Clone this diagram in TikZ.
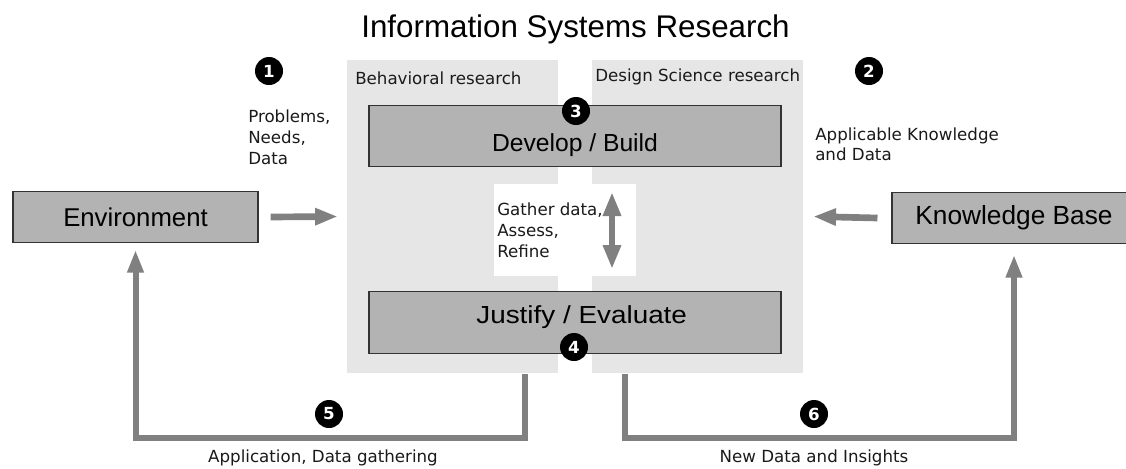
\documentclass[tikz,border=0pt]{standalone}
\usepackage{graphicx}
\usepackage{fontspec}
\setmainfont{DejaVu Sans}
\newfontfamily\arialf{Liberation Sans}
\usetikzlibrary{arrows.meta,calc}
\definecolor{panelgray}{HTML}{E6E6E6}
\definecolor{boxgray}{HTML}{B3B3B3}
\definecolor{arrowgray}{HTML}{808080}
\definecolor{boxline}{HTML}{333333}
\definecolor{textdark}{HTML}{1A1A1A}
\begin{document}
\begin{tikzpicture}[x=0.75pt,y=-0.75pt,
 panel/.style={fill=panelgray, draw=none, inner sep=0, minimum width=158.25pt, minimum height=234.75pt},
 gapbox/.style={fill=white, draw=none, inner sep=0, minimum width=106.5pt, minimum height=69pt},
 stagebox/.style={fill=boxgray, draw=boxline, line width=0.8pt, inner sep=0, minimum width=309pt, minimum height=46pt},
 sidebox/.style={fill=boxgray, draw=boxline, line width=0.8pt, inner sep=0, minimum height=38pt},
 boxtext/.style={font=\arialf\fontsize{18.5}{22}\selectfont},
 numdot/.style={circle, fill=black, inner sep=0, minimum size=21pt, text=white, font=\bfseries\fontsize{12.5}{15}\selectfont},
 small/.style={font=\fontsize{12.5}{15.4}\selectfont, text=textdark, inner sep=0, align=left},
 fatarrow/.style={draw=arrowgray, line width=5pt, -{Triangle[length=17pt,width=12pt]}},
 thinarrow/.style={draw=arrowgray, line width=4.5pt, {Triangle[length=18pt,width=12.75pt]}-{Triangle[length=18pt,width=12.75pt]}},
 loopline/.style={draw=arrowgray, line width=4.5pt, line join=miter, -{Triangle[length=17pt,width=11.5pt]}},
]
\useasboundingbox (0,0) rectangle (1126,468);
\fill[white] (0,0) rectangle (1126,468);

% title
\node[font=\arialf\fontsize{23.5}{28}\selectfont, anchor=base, inner sep=0] (title) at (575.5,37) {Information Systems Research};

% panels
\node[panel] (leftpanel) at (452.5,216.5) {};
\node[panel] (rightpanel) at (697.5,216.5) {};
\node[gapbox] (gap) at (565,230) {};

\node[small, anchor=base west] (behav) at (355,84) {Behavioral research};
\node[small, anchor=base west] (design) at (595,81) {Design Science research};

% stage boxes
\node[stagebox, label={[boxtext, yshift=-6.5pt]center:Develop / Build}] (build) at (575,136) {};
\node[stagebox, label={[boxtext, yshift=4pt, xshift=5pt]center:\scalebox{1.13}[1]{Justify / Evaluate}}] (justify) at (575,322.5) {};

% side boxes
\node[sidebox, minimum width=183.75pt, font=\arialf\fontsize{19.3}{23}\selectfont] (env) at (135.5,217) {Environment};
\node[sidebox, minimum width=183pt, font=\arialf\fontsize{19.7}{23}\selectfont] (kb) at (1014,218) {Knowledge Base};

% texts
\node[small, anchor=north west] (problems) at (248,110) {Problems,\\Needs,\\Data};
\node[small, anchor=north west] (applic) at (815,127.5) {Applicable Knowledge\\and Data};
\node[small, anchor=north west] (gather) at (497,203) {Gather data,\\Assess,\\Refine};
\node[small, anchor=base] (appl) at (323,462) {Application, Data gathering};
\node[small, anchor=base] (newdata) at (814,462) {New Data and Insights};

% arrows
\draw[fatarrow] ([xshift=9pt]env.east) -- ([xshift=-6.75pt]leftpanel.west);
\draw[fatarrow] ([xshift=-10.5pt]kb.west) -- ([xshift=7.5pt]rightpanel.east);
\coordinate (da1) at (612,192);
\coordinate (da2) at (612,269);
\draw[thinarrow] (da1) -- (da2);

\coordinate (l1) at (525,374);
\coordinate (r1) at (625,374);
\draw[loopline] (l1) -- (525,438) -| ([yshift=-5.25pt]env.south);
\draw[loopline] (r1) -- (625,438) -| ([yshift=-8.25pt]kb.south);

% number dots
\node[numdot] (n1) at (269,71) {1};
\node[numdot] (n2) at (869,71) {2};
\node[numdot] (n3) at (576,111) {3};
\node[numdot] (n4) at (574,347) {4};
\node[numdot] (n5) at (329,414) {5};
\node[numdot] (n6) at (814,414) {6};
\end{tikzpicture}
\end{document}
